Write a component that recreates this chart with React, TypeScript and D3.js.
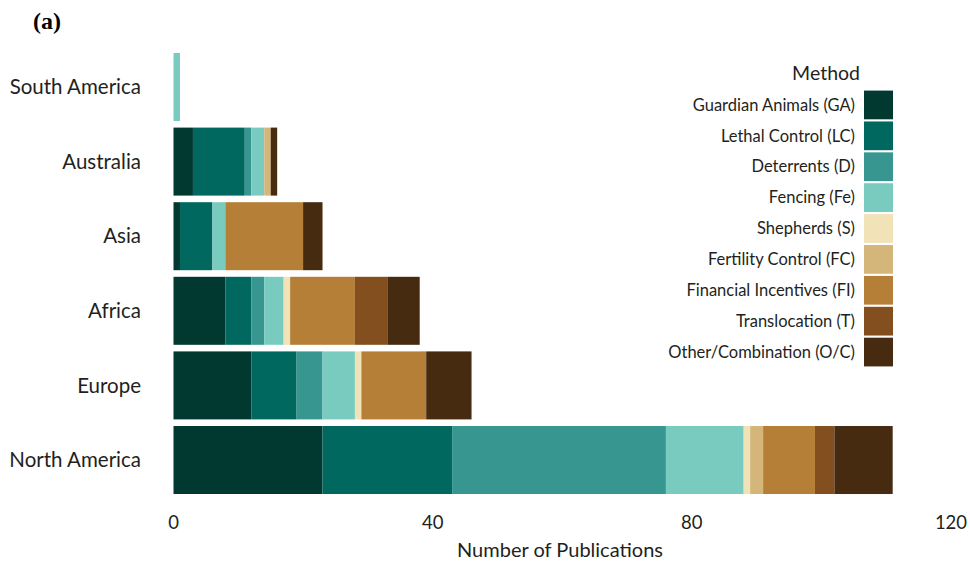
import React, { useEffect, useRef } from 'react';
import * as d3 from 'd3';

const regions = ["South America", "Australia", "Asia", "Africa", "Europe", "North America"];

const methodNames = [
  "Guardian Animals (GA)",
  "Lethal Control (LC)",
  "Deterrents (D)",
  "Fencing (Fe)",
  "Shepherds (S)",
  "Fertility Control (FC)",
  "Financial Incentives (FI)",
  "Translocation (T)",
  "Other/Combination (O/C)"
];
const methodKeys = ["GA", "LC", "D", "Fe", "S", "FC", "FI", "T", "OC"];
const methodColors = ["#013830", "#016860", "#379790", "#79cbbf", "#f2e2b8", "#d5b67a", "#b67f37", "#834f1e", "#472b11"];

// publications per region, same order as regions
const GA = [0, 3, 1, 8, 12, 23];
const LC = [0, 8, 5, 4, 7, 20];
const D = [0, 1, 0, 2, 4, 33];
const Fe = [1, 2, 2, 3, 5, 12];
const S = [0, 0, 0, 1, 1, 1];
const FC = [0, 1, 0, 0, 0, 2];
const FI = [0, 0, 12, 10, 10, 8];
const T = [0, 0, 0, 5, 0, 3];
const OC = [0, 1, 3, 5, 7, 9];

const xTicks = [0, 40, 80, 120];

const FONT = "Lato, 'Open Sans', sans-serif";

const StackedBars: React.FC<{ width: number; height: number }> = ({ width, height }) => {
  const svgRef = useRef<SVGSVGElement>(null);

  useEffect(() => {
    if (!svgRef.current) return;
    const svg = d3.select(svgRef.current);
    svg.selectAll("*").remove();

    const series = [GA, LC, D, Fe, S, FC, FI, T, OC];
    const rows = regions.map((r, i) => {
      const row: Record<string, any> = { region: r };
      methodKeys.forEach((k, j) => { row[k] = series[j][i]; });
      return row;
    });

    const stack = d3.stack<Record<string, any>>().keys(methodKeys);
    const layers = stack(rows);

    const x = d3.scaleLinear().domain([0, 120]).range([173.5, 951]);
    const y = d3.scaleBand<string>()
      .domain(regions)
      .range([49.7, 497.3])
      .paddingInner(0.0885)
      .paddingOuter(0.044);

    const color = d3.scaleOrdinal<string, string>().domain(methodKeys).range(methodColors);

    // bars
    svg.append("g")
      .selectAll("g")
      .data(layers)
      .enter()
      .append("g")
      .attr("fill", d => color(d.key))
      .selectAll("rect")
      .data(d => d)
      .enter()
      .append("rect")
      .attr("x", d => x(d[0]))
      .attr("y", d => y(d.data.region as string)!)
      .attr("width", d => Math.max(0, x(d[1]) - x(d[0])))
      .attr("height", y.bandwidth());

    // region labels
    svg.append("g")
      .selectAll("text")
      .data(regions)
      .enter()
      .append("text")
      .attr("x", 141)
      .attr("y", d => y(d)! + y.bandwidth() / 2)
      .attr("dy", "0.35em")
      .attr("text-anchor", "end")
      .attr("font-family", FONT)
      .attr("font-size", 20.5)
      .attr("fill", "#231f20")
      .text(d => d);

    // x axis tick labels
    svg.append("g")
      .selectAll("text")
      .data(xTicks)
      .enter()
      .append("text")
      .attr("x", d => x(d))
      .attr("y", 529)
      .attr("text-anchor", "middle")
      .attr("font-family", FONT)
      .attr("font-size", 18.5)
      .attr("fill", "#231f20")
      .text(d => d);

    svg.append("text")
      .attr("x", 560)
      .attr("y", 557)
      .attr("text-anchor", "middle")
      .attr("font-family", FONT)
      .attr("font-size", 20)
      .attr("fill", "#231f20")
      .text("Number of Publications");

    // legend
    const legY = d3.scaleBand<string>()
      .domain(methodKeys)
      .range([89.5, 367.5])
      .paddingInner(0.07)
      .paddingOuter(0.035);

    const leg = svg.append("g");
    leg.append("text")
      .attr("x", 860)
      .attr("y", 80)
      .attr("text-anchor", "end")
      .attr("font-family", FONT)
      .attr("font-size", 19.5)
      .attr("fill", "#231f20")
      .text("Method");

    leg.selectAll("rect")
      .data(methodKeys)
      .enter()
      .append("rect")
      .attr("x", 864)
      .attr("y", d => legY(d)!)
      .attr("width", 29)
      .attr("height", legY.bandwidth())
      .attr("fill", d => color(d));

    leg.selectAll("text.lbl")
      .data(methodKeys)
      .enter()
      .append("text")
      .attr("class", "lbl")
      .attr("x", 855)
      .attr("y", d => legY(d)! + legY.bandwidth() / 2)
      .attr("dy", "0.35em")
      .attr("text-anchor", "end")
      .attr("font-family", FONT)
      .attr("font-size", 16.5)
      .attr("fill", "#231f20")
      .text((_, i) => methodNames[i]);

    // panel label
    svg.append("text")
      .attr("x", 33)
      .attr("y", 29)
      .attr("font-family", "'Liberation Serif', 'DejaVu Serif', serif")
      .attr("font-weight", "bold")
      .attr("font-size", 24)
      .attr("fill", "#000")
      .text("(a)");
  }, [width, height]);

  return (
    <svg
      ref={svgRef}
      width={width}
      height={height}
      style={{ position: "absolute", left: 0, top: 0, background: "#fff" }}
    />
  );
};

export default function App() {
  return <StackedBars width={970} height={563} />;
}
